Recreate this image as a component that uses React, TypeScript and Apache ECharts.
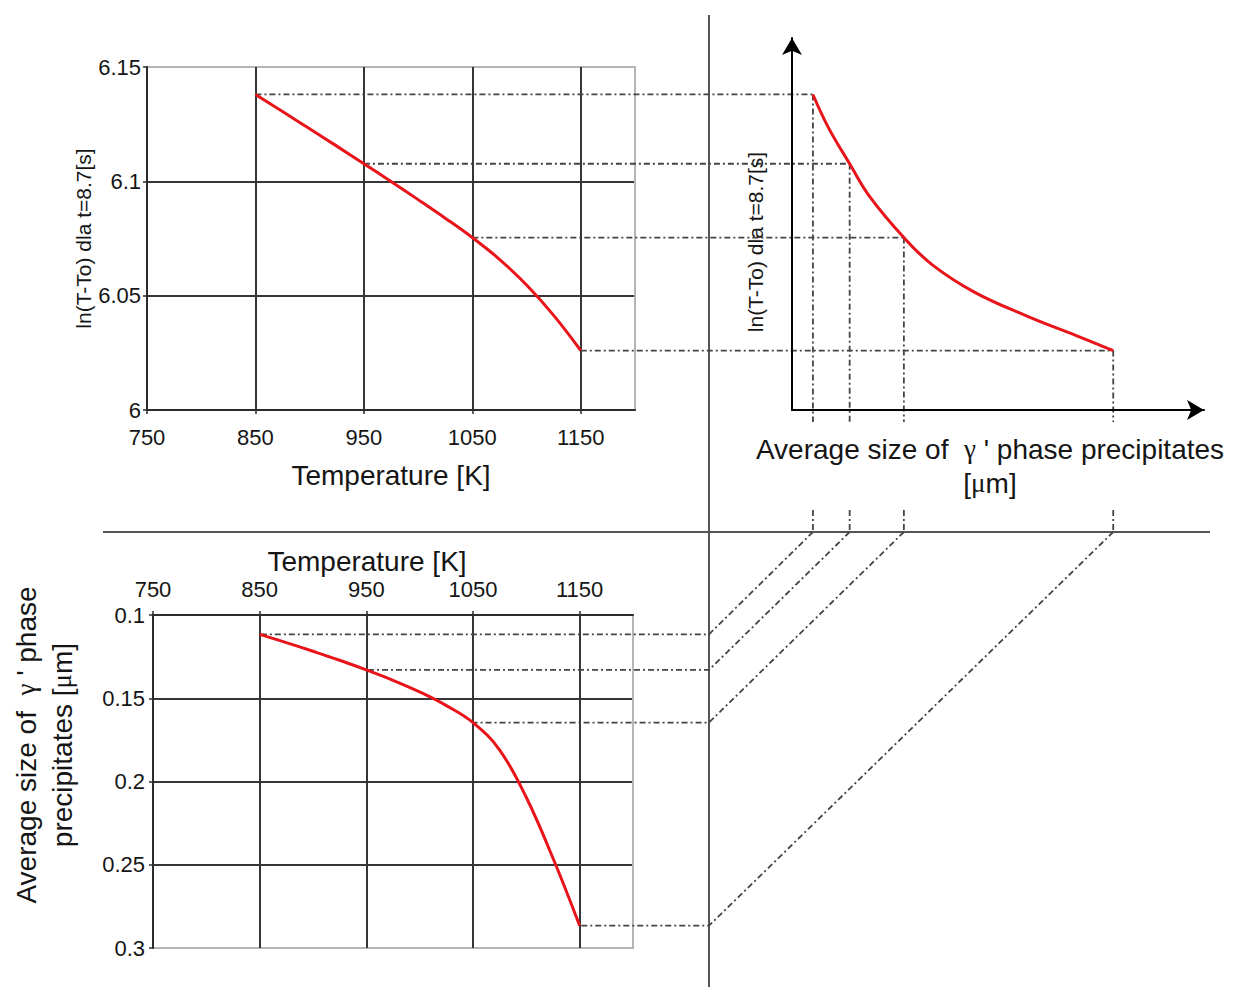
import React, { useEffect, useRef } from "react";
import * as echarts from "echarts";

// ---- data ----
const temperatures = [850, 875, 900, 925, 950, 975, 1000, 1025, 1050, 1075, 1100, 1125, 1150];
const lnValues = [6.138, 6.1305, 6.123, 6.1154, 6.1077, 6.0999, 6.092, 6.0839, 6.0754, 6.0659, 6.0547, 6.0414, 6.026];
const sizeValues = [0.1116, 0.1166, 0.1218, 0.1272, 0.133, 0.1392, 0.1462, 0.1544, 0.1646, 0.1811, 0.2096, 0.2461, 0.2866];
const projectedTemps = [850, 950, 1050, 1150];

// schematic (top-right) curve
const schematicSize = [0.1116, 0.1207, 0.133, 0.1448, 0.1646, 0.181, 0.2051, 0.2353, 0.2654, 0.2866];
const schematicLn = [6.138, 6.1234, 6.1077, 6.0932, 6.0754, 6.0636, 6.0518, 6.0414, 6.0324, 6.026];

const tempRange = [750, 1200];
const tempInterval = 100;
const lnRange = [6, 6.15];
const lnInterval = 0.05;
const sizeRange = [0.1, 0.3];
const sizeInterval = 0.05;
const schematicSizeRange = [0.0994, 0.3395];
const schematicLnRange = [6, 6.1627];

const FONT = "'Liberation Sans', Arial, Helvetica, sans-serif";
const SERIF = "'Liberation Serif', 'DejaVu Serif', serif";
const DARK = "#363636";
const LIGHT = "#b5b5b5";
const AXIS = "#2c2c2c";
const TEXT = "#151515";
const RED = "#e8141a";
const DASH = "#444444";

const DIV_X = 709;
const DIV_Y = 532;

function repeat(c: string, n: number) {
  return Array.from({ length: n }, () => c);
}

function buildOption(): any {
  const tickLabel = { fontSize: 22, color: TEXT, fontFamily: FONT, formatter: (v: number) => String(v) };
  const curve = { type: "line", smooth: 0.4, showSymbol: false, lineStyle: { color: RED, width: 3 } };
  return {
    animation: false,
    backgroundColor: "#ffffff",
    grid: [
      { left: 147, top: 67, width: 488, height: 343, show: true, borderColor: LIGHT, borderWidth: 2 },
      { left: 792, top: 38, width: 412, height: 372, show: false },
      { left: 153, top: 615, width: 480, height: 333, show: true, borderColor: LIGHT, borderWidth: 2 },
    ],
    xAxis: [
      {
        type: "value", gridIndex: 0, min: tempRange[0], max: tempRange[1], interval: tempInterval,
        axisLine: { show: true, onZero: false, lineStyle: { color: AXIS, width: 2 } },
        axisTick: { show: true, length: 4, lineStyle: { color: AXIS, width: 1.5 } },
        axisLabel: { ...tickLabel, margin: 16, showMaxLabel: false },
        splitLine: { show: true, lineStyle: { color: [...repeat(DARK, 5), LIGHT], width: 2 } },
        name: "Temperature [K]", nameLocation: "middle", nameGap: 51,
        nameTextStyle: { fontSize: 28, color: TEXT, fontFamily: FONT },
      },
      {
        type: "value", gridIndex: 1, min: schematicSizeRange[0], max: schematicSizeRange[1],
        axisLine: { show: true, onZero: false, symbol: ["none", "arrow"], symbolSize: [15, 17], lineStyle: { color: "#000", width: 2 } },
        axisTick: { show: false }, axisLabel: { show: false }, splitLine: { show: false },
        name: "{t|Average size of  }{g|γ}{t| ' phase precipitates}\n{t|[}{g|μ}{t|m]}",
        nameLocation: "middle", nameGap: 22,
        nameTextStyle: {
          padding: [0, 16, 0, 0],
          rich: {
            t: { fontSize: 28, fontFamily: FONT, color: TEXT, lineHeight: 34 },
            g: { fontSize: 27, fontFamily: SERIF, color: TEXT, lineHeight: 34 },
          },
        },
      },
      {
        type: "value", gridIndex: 2, position: "top", min: tempRange[0], max: tempRange[1], interval: tempInterval,
        axisLine: { show: true, onZero: false, lineStyle: { color: AXIS, width: 2 } },
        axisTick: { show: true, length: 4, lineStyle: { color: AXIS, width: 1.5 } },
        axisLabel: { ...tickLabel, margin: 15, showMaxLabel: false },
        splitLine: { show: true, lineStyle: { color: [...repeat(DARK, 5), LIGHT], width: 2 } },
      },
    ],
    yAxis: [
      {
        type: "value", gridIndex: 0, min: lnRange[0], max: lnRange[1], interval: lnInterval,
        axisLine: { show: true, onZero: false, lineStyle: { color: AXIS, width: 2 } },
        axisTick: { show: true, length: 4, lineStyle: { color: AXIS, width: 1.5 } },
        axisLabel: { ...tickLabel, margin: 6 },
        splitLine: { show: true, lineStyle: { color: [DARK, DARK, DARK, LIGHT], width: 2 } },
        name: "ln(T-To) dla t=8.7[s]", nameLocation: "middle", nameGap: 49, nameRotate: 90,
        nameTextStyle: { fontSize: 21, color: TEXT, fontFamily: FONT },
      },
      {
        type: "value", gridIndex: 1, min: schematicLnRange[0], max: schematicLnRange[1],
        axisLine: { show: true, onZero: false, symbol: ["none", "arrow"], symbolSize: [15, 17], lineStyle: { color: "#000", width: 2 } },
        axisTick: { show: false }, axisLabel: { show: false }, splitLine: { show: false },
      },
      {
        type: "value", gridIndex: 2, inverse: true, min: sizeRange[0], max: sizeRange[1], interval: sizeInterval,
        axisLine: { show: true, onZero: false, lineStyle: { color: AXIS, width: 2 } },
        axisTick: { show: true, length: 4, lineStyle: { color: AXIS, width: 1.5 } },
        axisLabel: { ...tickLabel, margin: 8 },
        splitLine: { show: true, lineStyle: { color: [DARK, DARK, DARK, DARK, LIGHT], width: 2 } },
      },
    ],
    series: [
      { ...curve, xAxisIndex: 0, yAxisIndex: 0, data: temperatures.map((t, i) => [t, lnValues[i]]) },
      { ...curve, xAxisIndex: 1, yAxisIndex: 1, data: schematicSize.map((s, i) => [s, schematicLn[i]]) },
      { ...curve, xAxisIndex: 2, yAxisIndex: 2, data: temperatures.map((t, i) => [t, sizeValues[i]]) },
    ],
  };
}

function buildGraphics(chart: any): any[] {
  const toPx = (xi: number, yi: number, v: number[]) =>
    chart.convertToPixel({ xAxisIndex: xi, yAxisIndex: yi }, v) as number[];
  const dashStyle = { stroke: DASH, lineWidth: 1.8, lineDash: [6, 3, 2, 3], fill: null };
  const els: any[] = [];

  // quadrant dividers
  els.push({ type: "line", silent: true, shape: { x1: DIV_X, y1: 15, x2: DIV_X, y2: 987 }, style: { stroke: "#555", lineWidth: 2 } });
  els.push({ type: "line", silent: true, shape: { x1: 103, y1: DIV_Y, x2: 1210, y2: DIV_Y }, style: { stroke: "#555", lineWidth: 2 } });

  const origin = toPx(1, 1, [schematicSizeRange[0], schematicLnRange[0]]);
  projectedTemps.forEach((T) => {
    const i = temperatures.indexOf(T);
    const a = toPx(0, 0, [T, lnValues[i]]);
    const b = toPx(1, 1, [sizeValues[i], lnValues[i]]);
    const f = toPx(2, 2, [T, sizeValues[i]]);
    els.push({ type: "line", silent: true, shape: { x1: a[0], y1: a[1], x2: b[0], y2: b[1] }, style: dashStyle });
    els.push({ type: "line", silent: true, shape: { x1: b[0], y1: b[1], x2: b[0], y2: origin[1] + 12 }, style: dashStyle });
    els.push({ type: "line", silent: true, shape: { x1: b[0], y1: DIV_Y - 22, x2: b[0], y2: DIV_Y }, style: dashStyle });
    els.push({ type: "polyline", silent: true, shape: { points: [[b[0], DIV_Y], [DIV_X, f[1]], [f[0], f[1]]] }, style: dashStyle });
  });

  // titles
  els.push({
    type: "text", x: 755, y: 242, rotation: Math.PI / 2, silent: true,
    style: { text: "ln(T-To) dla t=8.7[s]", fontSize: 21, fontFamily: FONT, fill: TEXT, align: "center", verticalAlign: "middle" },
  });
  els.push({
    type: "text", x: 367, y: 561, silent: true,
    style: { text: "Temperature [K]", fontSize: 28, fontFamily: FONT, fill: TEXT, align: "center", verticalAlign: "middle" },
  });
  els.push({
    type: "text", x: 44, y: 745, rotation: Math.PI / 2, silent: true,
    style: {
      text: "{t|Average size of  }{g|γ}{t| ' phase}\n{t|precipitates [}{g|μ}{t|m]}",
      align: "center", verticalAlign: "middle",
      rich: {
        t: { fontSize: 28, fontFamily: FONT, fill: TEXT, lineHeight: 36 },
        g: { fontSize: 27, fontFamily: SERIF, fill: TEXT, lineHeight: 36 },
      },
    },
  });
  return els;
}

export default function App() {
  const ref = useRef<HTMLDivElement>(null);
  useEffect(() => {
    if (!ref.current) return;
    const chart = echarts.init(ref.current, null, { renderer: "svg" });
    chart.setOption(buildOption());
    chart.setOption({ graphic: buildGraphics(chart) });
    return () => chart.dispose();
  }, []);
  return (
    <div
      ref={ref}
      style={{ position: "absolute", left: 0, top: 0, width: 1238, height: 987, background: "#fff" }}
    />
  );
}
